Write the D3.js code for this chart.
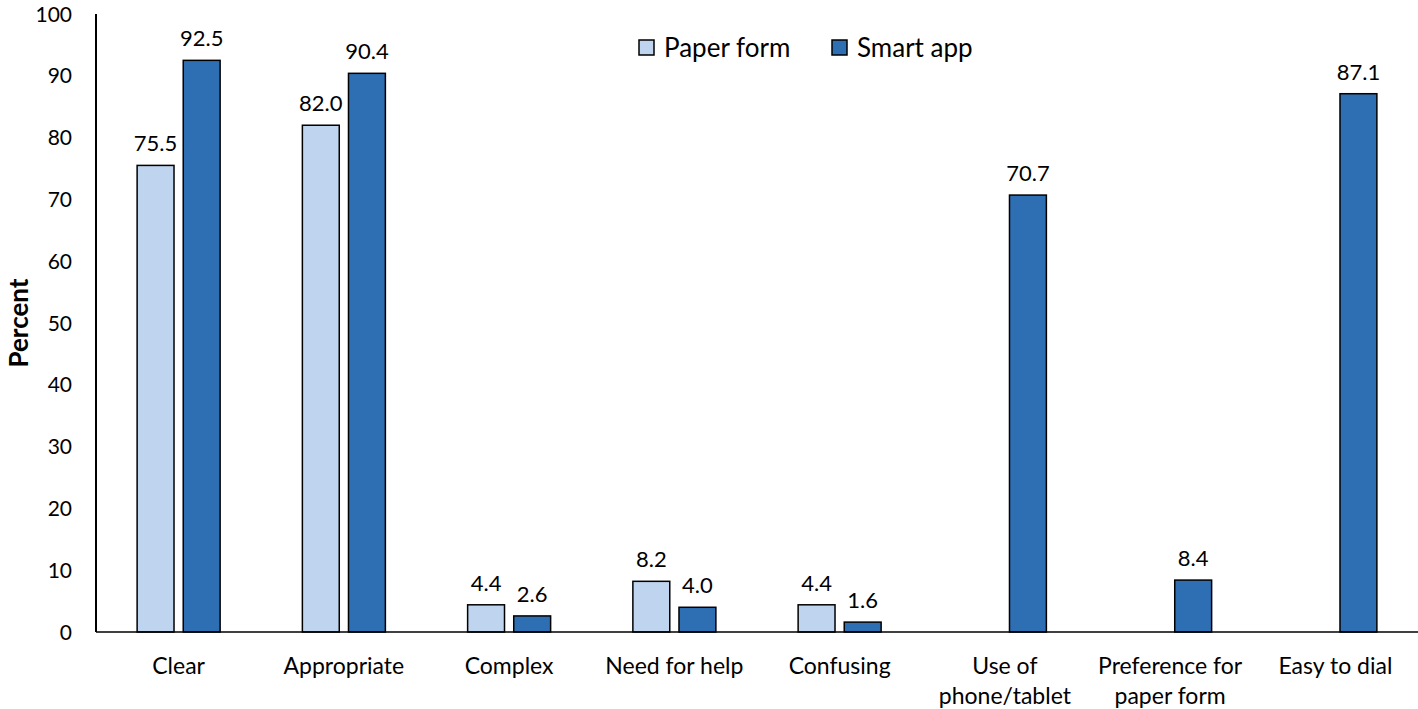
<!DOCTYPE html>
<html>
<head>
<meta charset="utf-8">
<script src="https://cdn.jsdelivr.net/npm/d3@7"></script>
<style>
  body { margin: 0; background: #fff; }
  text { font-family: Lato, "Open Sans", sans-serif; fill: #000; }
</style>
</head>
<body>
<script>
// chart data
var categories = ["Clear", "Appropriate", "Complex", "Need for help", "Confusing",
                  "Use of\nphone/tablet", "Preference for\npaper form", "Easy to dial"];
var series = ["Paper form", "Smart app"];
var paperForm = [75.5, 82.0, 4.4, 8.2, 4.4, null, null, null];
var smartApp = [92.5, 90.4, 2.6, 4.0, 1.6, 70.7, 8.4, 87.1];
var yTicks = [0, 10, 20, 30, 40, 50, 60, 70, 80, 90, 100];
var colors = ["#bfd4ee", "#2e6fb3"];

var width = 1418, height = 709;
var margin = {top: 14, right: 0, bottom: 77, left: 96};

var svg = d3.select("body").append("svg")
    .attr("width", width)
    .attr("height", height);

var g = svg.append("g")
    .attr("transform", "translate(" + margin.left + "," + margin.top + ")");

var w = width - margin.left - margin.right,
    h = height - margin.top - margin.bottom;

var x0 = d3.scaleBand().domain(categories).range([0, w]).padding(0);
var bw = x0.bandwidth();
var x1 = d3.scaleBand().domain(series)
    .range([bw / 2 - 41.5, bw / 2 + 41.5])
    .paddingInner(0.2);
var y = d3.scaleLinear().domain([0, 100]).range([h, 0]);

// y tick labels
g.selectAll(".ytick")
    .data(yTicks)
    .enter().append("text")
    .attr("class", "ytick")
    .attr("x", -24)
    .attr("y", function(d) { return y(d); })
    .attr("dy", "0.36em")
    .attr("text-anchor", "end")
    .style("font-size", "21px")
    .text(function(d) { return d; });

// y axis title
svg.append("text")
    .attr("transform", "translate(28," + (margin.top + h / 2) + ") rotate(-90)")
    .attr("text-anchor", "middle")
    .style("font-size", "26px")
    .style("font-weight", "bold")
    .text("Percent");

// bars
var rows = categories.map(function(c, i) {
    return {cat: c, vals: [paperForm[i], smartApp[i]]};
});

var groups = g.selectAll(".grp")
    .data(rows)
    .enter().append("g")
    .attr("class", "grp")
    .attr("transform", function(d) { return "translate(" + x0(d.cat) + ",0)"; });

var cells = groups.selectAll(".cell")
    .data(function(d) {
        return series.map(function(s, j) { return {s: s, j: j, v: d.vals[j]}; })
            .filter(function(e) { return e.v !== null; });
    })
    .enter();

cells.append("rect")
    .attr("x", function(d) { return x1(d.s); })
    .attr("y", function(d) { return y(d.v); })
    .attr("width", x1.bandwidth())
    .attr("height", function(d) { return h - y(d.v); })
    .attr("fill", function(d) { return colors[d.j]; })
    .attr("stroke", "#000")
    .attr("stroke-width", 1.5);

cells.append("text")
    .attr("x", function(d) { return x1(d.s) + x1.bandwidth() / 2; })
    .attr("y", function(d) { return y(d.v) - 14; })
    .attr("text-anchor", "middle")
    .style("font-size", "22px")
    .text(function(d) { return d.v.toFixed(1); });

// axes lines
g.append("line")
    .attr("x1", 0).attr("x2", 0).attr("y1", 0).attr("y2", h)
    .attr("stroke", "#000").attr("stroke-width", 2);
g.append("line")
    .attr("x1", 0).attr("x2", w).attr("y1", h).attr("y2", h)
    .attr("stroke", "#000").attr("stroke-width", 1.5);

// category labels
var cl = g.selectAll(".cat")
    .data(categories)
    .enter().append("text")
    .attr("class", "cat")
    .attr("text-anchor", "middle")
    .style("font-size", "23px")
    .attr("transform", function(d) { return "translate(" + (x0(d) + bw / 2) + "," + (h + 42) + ")"; });
cl.selectAll("tspan")
    .data(function(d) { return d.split("\n"); })
    .enter().append("tspan")
    .attr("x", 0)
    .attr("dy", function(d, i) { return i === 0 ? 0 : 30; })
    .text(function(d) { return d; });

// legend
var legX = [639, 832];
var leg = svg.selectAll(".leg")
    .data(series)
    .enter().append("g")
    .attr("class", "leg")
    .attr("transform", function(d, i) { return "translate(" + legX[i] + ",40)"; });
leg.append("rect")
    .attr("width", 15).attr("height", 15)
    .attr("fill", function(d, i) { return colors[i]; })
    .attr("stroke", "#000").attr("stroke-width", 1.5);
leg.append("text")
    .attr("x", 25).attr("y", 8).attr("dy", "0.36em")
    .style("font-size", "26px")
    .text(function(d) { return d; });
</script>
</body>
</html>
